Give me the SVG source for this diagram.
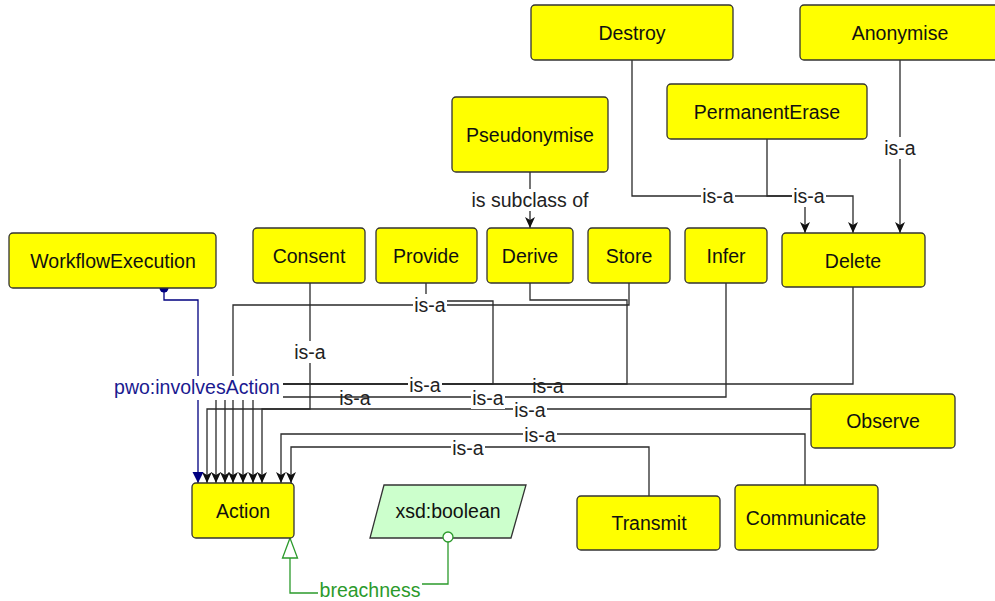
<svg xmlns="http://www.w3.org/2000/svg" width="995" height="601" viewBox="0 0 995 601">
  <style>
    text { font-family: "Liberation Sans", Arial, sans-serif; font-size: 19.5px; text-anchor: middle; }
    .node rect { fill: #ffff00; stroke: #333333; stroke-width: 1.3; }
    .node text { fill: #111111; }
    .edge { fill: none; stroke: #2a2a2a; stroke-width: 1.3; marker-end: url(#arrow); }
    .prop { fill: none; stroke: #000080; stroke-width: 1.3; marker-end: url(#arrowBlue); }
    .attr { fill: none; stroke: #2b9a2b; stroke-width: 1.3; }
    .lbl { fill: #222222; }
    .bg { fill: #ffffff; }
  </style>
  <defs>
    <marker id="arrow" viewBox="-12 -6 13 12" refX="0" refY="0" markerWidth="13" markerHeight="12" markerUnits="userSpaceOnUse" orient="auto">
      <path d="M0,0 L-11,-5 L-8,0 L-11,5 Z" fill="#111111"/>
    </marker>
    <marker id="arrowBlue" viewBox="-12 -6 13 12" refX="0" refY="0" markerWidth="13" markerHeight="12" markerUnits="userSpaceOnUse" orient="auto">
      <path d="M0,0 L-11,-5.5 L-11,5.5 Z" fill="#000080"/>
    </marker>
    <marker id="hollowTri" viewBox="-22 -9 24 18" refX="0" refY="0" markerWidth="24" markerHeight="18" markerUnits="userSpaceOnUse" orient="auto">
      <path d="M0,0 L-20,-7.5 L-20,7.5 Z" fill="#ffffff" stroke="#2b9a2b" stroke-width="1.3"/>
    </marker>
  </defs>

  <!-- datatype node sits under the connector end circle -->
  <g id="xsd_boolean"><polygon points="384,485 526,485 511,538 370,538" fill="#ccffcc" stroke="#333333" stroke-width="1.3"/><text x="448" y="518" fill="#111111">xsd:boolean</text></g>

  <g id="connectors">
    <!-- is-a edges into Action -->
    <path class="edge" d="M310,283 V409 H207 V483"/>
    <path class="edge" d="M811,409 H262 V483"/>
    <path class="edge" d="M426,283 V301 H493 V384 H216 V483"/>
    <path class="edge" d="M530,283 V300 H627 V384 H225 V483"/>
    <path class="edge" d="M629,283 V305 H233 V483"/>
    <path class="edge" d="M726,283 V397 H253 V483"/>
    <path class="edge" d="M853,287 V384 H243 V483"/>
    <path class="edge" d="M649,496 V447 H291 V483"/>
    <path class="edge" d="M805,485 V434 H281 V483"/>
    <!-- is-a edges into Delete -->
    <path class="edge" d="M632,60 V196 H853 V233"/>
    <path class="edge" d="M767,139 V196 H805 V233"/>
    <path class="edge" d="M900,60 V233"/>
    <!-- subclass edge into Derive -->
    <path class="edge" d="M530,172 V228"/>
    <!-- object property -->
    <path class="prop" d="M164,288 V300 H198 V483"/>
    <circle cx="164" cy="288" r="4.5" fill="#000080"/>
    <!-- datatype property -->
    <path class="attr" d="M448,538 V584 H370 V593 H290 V538" marker-end="url(#hollowTri)"/>
    <circle cx="448" cy="537" r="5" fill="#ffffff" stroke="#2b9a2b" stroke-width="1.3"/>

    <!-- edge labels -->
    <g>
      <rect class="bg" x="293" y="341" width="34" height="22"/>
      <text class="lbl" x="310" y="359">is-a</text>
      <rect class="bg" x="413" y="294" width="34" height="22"/>
      <text class="lbl" x="430" y="312">is-a</text>
      <rect class="bg" x="408" y="374" width="34" height="22"/>
      <text class="lbl" x="425" y="392">is-a</text>
      <text class="lbl" x="548" y="393">is-a</text>
      <text class="lbl" x="355" y="405">is-a</text>
      <rect class="bg" x="471" y="387" width="34" height="22"/>
      <text class="lbl" x="488" y="405">is-a</text>
      <rect class="bg" x="513" y="399" width="34" height="22"/>
      <text class="lbl" x="530" y="417">is-a</text>
      <rect class="bg" x="523" y="424" width="34" height="22"/>
      <text class="lbl" x="540" y="442">is-a</text>
      <rect class="bg" x="451" y="437" width="34" height="22"/>
      <text class="lbl" x="468" y="455">is-a</text>
      <rect class="bg" x="701" y="185" width="34" height="22"/>
      <text class="lbl" x="718" y="203">is-a</text>
      <rect class="bg" x="792" y="185" width="34" height="22"/>
      <text class="lbl" x="809" y="203">is-a</text>
      <rect class="bg" x="883" y="137" width="34" height="22"/>
      <text class="lbl" x="900" y="155">is-a</text>
      <rect class="bg" x="468" y="189" width="124" height="22"/>
      <text class="lbl" x="530" y="207">is subclass of</text>
      <rect class="bg" x="111" y="376" width="172" height="24"/>
      <text x="197" y="394" fill="#1a1a90">pwo:involvesAction</text>
      <rect class="bg" x="318" y="579" width="104" height="22"/>
      <text x="370" y="597" fill="#2b9a2b">breachness</text>
    </g>
  </g>

  <g id="Destroy" class="node"><rect x="531" y="5" width="202" height="55" rx="4"/><text x="632" y="40">Destroy</text></g>
  <g id="Anonymise" class="node"><rect x="800" y="5" width="200" height="55" rx="4"/><text x="900" y="40">Anonymise</text></g>
  <g id="PermanentErase" class="node"><rect x="667" y="84" width="200" height="55" rx="4"/><text x="767" y="119">PermanentErase</text></g>
  <g id="Pseudonymise" class="node"><rect x="452" y="97" width="156" height="75" rx="4"/><text x="530" y="142">Pseudonymise</text></g>
  <g id="WorkflowExecution" class="node"><rect x="9" y="233" width="207" height="55" rx="4"/><text x="113" y="268">WorkflowExecution</text></g>
  <g id="Consent" class="node"><rect x="253" y="228" width="112" height="55" rx="4"/><text x="309" y="263">Consent</text></g>
  <g id="Provide" class="node"><rect x="376" y="228" width="101" height="55" rx="4"/><text x="426" y="263">Provide</text></g>
  <g id="Derive" class="node"><rect x="487" y="228" width="86" height="55" rx="4"/><text x="530" y="263">Derive</text></g>
  <g id="Store" class="node"><rect x="588" y="228" width="82" height="55" rx="4"/><text x="629" y="263">Store</text></g>
  <g id="Infer" class="node"><rect x="685" y="228" width="82" height="55" rx="4"/><text x="726" y="263">Infer</text></g>
  <g id="Delete" class="node"><rect x="782" y="233" width="143" height="54" rx="4"/><text x="853" y="268">Delete</text></g>
  <g id="Observe" class="node"><rect x="811" y="394" width="144" height="54" rx="4"/><text x="883" y="428">Observe</text></g>
  <g id="Action" class="node"><rect x="192" y="483" width="102" height="55" rx="4"/><text x="243" y="518">Action</text></g>
  <g id="Transmit" class="node"><rect x="577" y="496" width="143" height="54" rx="4"/><text x="649" y="530">Transmit</text></g>
  <g id="Communicate" class="node"><rect x="735" y="485" width="143" height="65" rx="4"/><text x="806" y="525">Communicate</text></g>
</svg>
